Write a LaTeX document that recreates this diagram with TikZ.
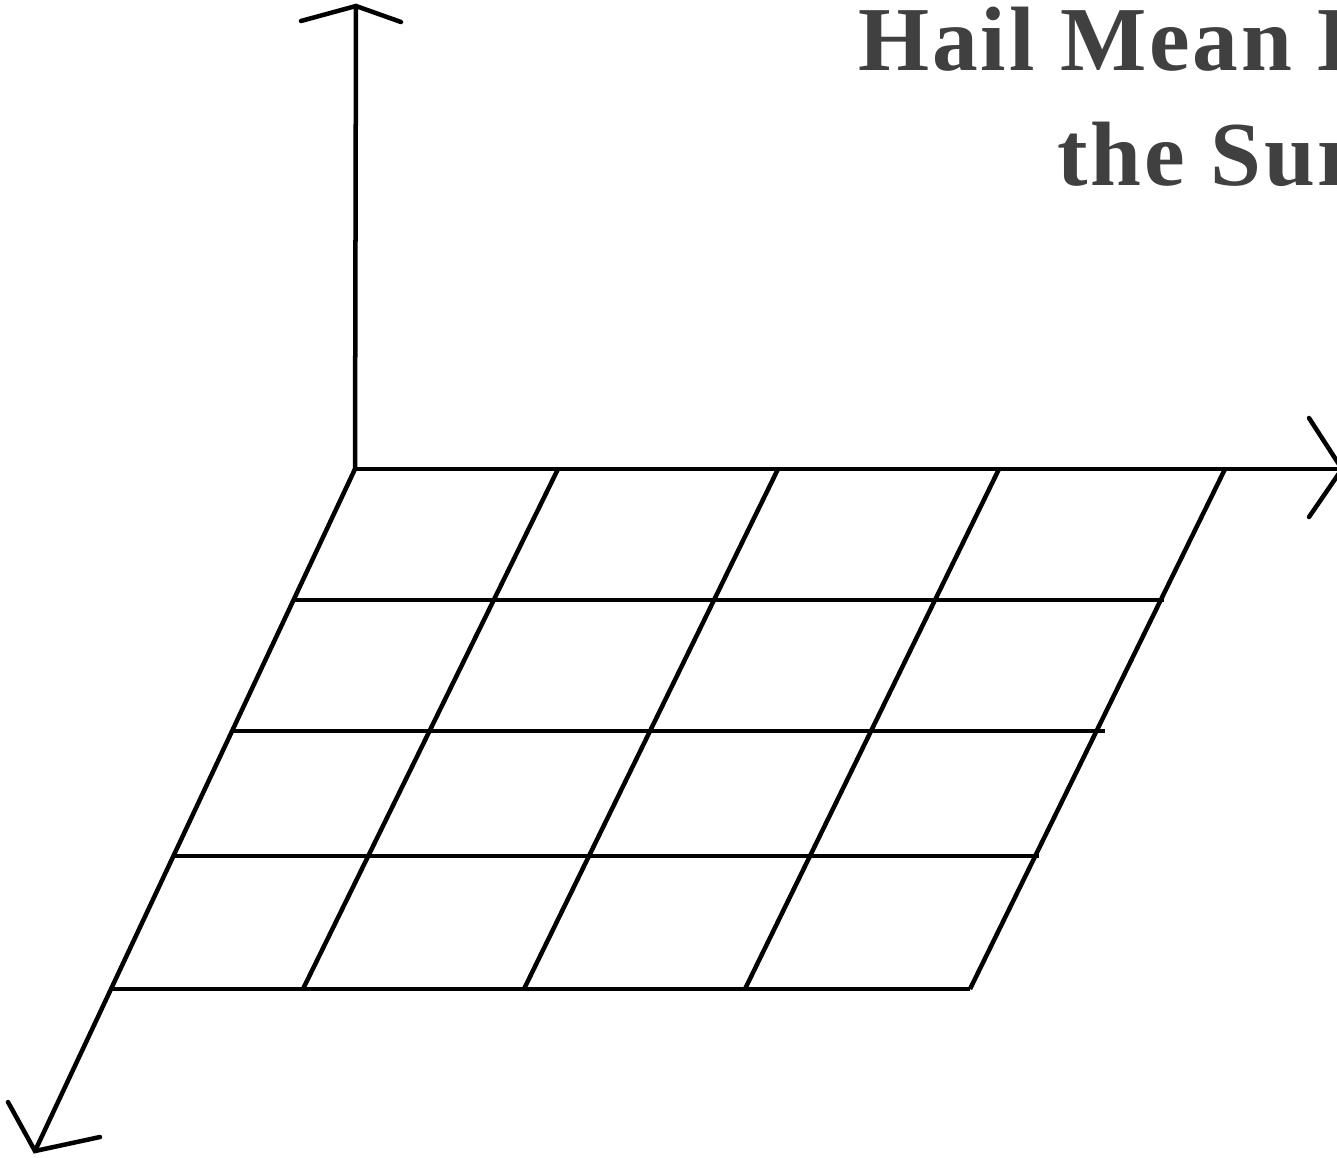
\documentclass[tikz,border=0pt]{standalone}
\usepackage{fontspec}
\setmainfont{Liberation Serif}
\definecolor{titlegray}{HTML}{404040}
\begin{document}
\begin{tikzpicture}[x=0.01cm,y=-0.01cm,
  ln/.style={line width=0.045cm, line cap=round, line join=miter, black},
  gridline/.style={line width=0.045cm, black},
  titletext/.style={text=titlegray, font=\addfontfeature{LetterSpace=3}\fontsize{26}{31}\selectfont\bfseries, inner sep=0pt, anchor=base west}]
\useasboundingbox (0,0) rectangle (1337,1157);
% axis coordinates
\coordinate (O) at (355,469);
\coordinate (Ytip) at (356,6);
\coordinate (Yl) at (301,21);
\coordinate (Yr) at (401,22);
\coordinate (Xtip) at (1342,469);
\coordinate (Xu) at (1309,418);
\coordinate (Xd) at (1309,517);
\coordinate (Ztip) at (35,1151);
\coordinate (Zl) at (8,1102);
\coordinate (Zr) at (100,1137);
% axes
\draw[ln] (O) -- (Ytip);
\draw[ln] (Yl) -- (Ytip) -- (Yr);
\draw[ln] (O) -- (Xtip);
\draw[ln] (Xu) -- (Xtip) -- (Xd);
\draw[ln] (O) -- (Ztip);
\draw[ln] (Zl) -- (Ztip) -- (Zr);
% grid slanted lines
\coordinate (t1) at (558,469); \coordinate (b1) at (303,989);
\coordinate (t2) at (778,469); \coordinate (b2) at (524,989);
\coordinate (t3) at (999,469); \coordinate (b3) at (745,989);
\coordinate (t4) at (1225,469); \coordinate (b4) at (970,989);
\draw[gridline] (t1) -- (b1);
\draw[gridline] (t2) -- (b2);
\draw[gridline] (t3) -- (b3);
\draw[gridline] (t4) -- (b4);
% grid rows
\coordinate (r1l) at (295,600); \coordinate (r1r) at (1164,600);
\coordinate (r2l) at (234,731); \coordinate (r2r) at (1105,731);
\coordinate (r3l) at (173,856); \coordinate (r3r) at (1039,856);
\coordinate (r4l) at (113,989); \coordinate (r4r) at (970,989);
\draw[gridline] (r1l) -- (r1r);
\draw[gridline] (r2l) -- (r2r);
\draw[gridline] (r3l) -- (r3r);
\draw[gridline] (r4l) -- (r4r);
% title
\node[titletext] (title1) at (858,70) {Hail Mean Diameter at};
\node[titletext] (title2) at (1057,185) {the Surface};
\end{tikzpicture}
\end{document}
